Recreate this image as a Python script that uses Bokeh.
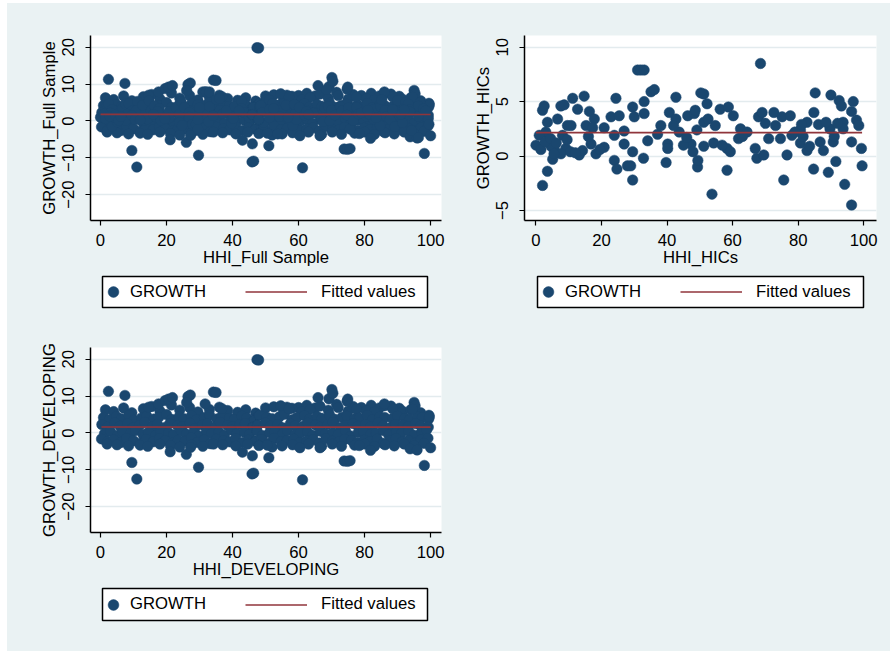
import numpy as np
from bokeh.plotting import figure
from bokeh.models import Legend, LegendItem, Range1d, FixedTicker, Spacer
from bokeh.layouts import column, row
from bokeh.embed import file_html
from bokeh.resources import INLINE

BG = "#EAF2F3"
NAVY = "#1A476F"
MAROON = "#90353B"
GRID = "#E3EBEE"
FONT = "Liberation Sans"
FS = "16.7px"

x_ticks = [0, 20, 40, 60, 80, 100]
y_ticks_wide = [-20, -10, 0, 10, 20]
y_ticks_hic = [-5, 0, 5, 10]

# ---------------- DEVELOPING sample ----------------
dev_r1_x = [1.5, 4.0, 7.0, 9.5, 13.0, 15.5, 18.0, 21.5, 24.0, 27.0, 29.5, 33.0, 36.0, 38.5, 41.5, 44.0, 47.0, 50.0,
            52.5, 55.5, 58.0, 61.0, 63.5, 66.5, 69.0, 72.0, 75.0, 77.5, 80.5, 83.0, 86.0, 88.5, 91.5, 94.0, 97.0, 99.5]
dev_r1_y = [6.3, 5.8, 6.8, 5.5, 6.6, 7.2, 6.0, 7.6, 6.2, 6.9, 5.7, 6.4, 7.0, 6.1, 5.6, 6.3, 5.4, 6.8,
            7.1, 6.0, 6.7, 5.8, 6.4, 7.3, 6.2, 6.9, 5.9, 6.5, 6.1, 5.7, 7.4, 6.6, 5.9, 6.3, 5.5, 4.8]
dev_r0_x = [56.5, 60.0, 62.5, 65.0, 71.5, 76.5, 79.0, 82.0, 84.5, 88.0, 90.5]
dev_r0_y = [7.0, 6.9, 7.5, 6.8, 7.8, 7.2, 6.9, 7.5, 6.8, 7.3, 6.7]
dev_r2_x = [0.9, 2.6, 4.8, 6.3, 8.6, 10.1, 12.4, 14.0, 16.2, 17.7, 20.0, 21.5, 23.8, 25.3, 27.6, 29.1, 31.4, 33.0,
            35.2, 36.7, 39.0, 40.5, 42.8, 44.3, 46.6, 48.1, 50.4, 52.0, 54.2, 55.7, 58.0, 59.5, 61.8, 63.3, 65.6,
            67.1, 69.4, 71.0, 73.2, 74.7, 77.0, 78.5, 80.8, 82.3, 84.6, 86.1, 88.4, 90.0, 92.2, 93.7, 96.0, 97.5, 99.4]
dev_r2_y = [4.2, 3.6, 4.5, 3.9, 4.8, 3.5, 4.1, 4.6, 3.8, 4.3, 5.0, 3.7, 4.4, 3.9, 4.7, 3.6, 4.2, 4.9,
            3.8, 4.5, 4.0, 3.7, 4.6, 4.1, 3.5, 4.8, 4.3, 3.9, 4.4, 5.1, 3.6, 4.2, 4.7, 3.8, 4.5,
            4.0, 4.9, 3.7, 4.3, 4.6, 3.9, 4.1, 4.8, 3.6, 4.4, 4.2, 3.9, 4.6, 4.0, 3.7, 4.5, 4.3, 3.8]
dev_r3_x = [0.4, 2.1, 4.3, 5.9, 8.2, 9.7, 11.9, 13.4, 15.7, 17.2, 19.5, 21.0, 23.3, 24.8, 27.1, 28.6, 30.9, 32.4,
            34.7, 36.2, 38.5, 40.0, 42.3, 43.8, 46.1, 47.6, 49.9, 51.4, 53.7, 55.2, 57.5, 59.0, 61.3, 62.8, 65.1,
            66.6, 68.9, 70.4, 72.7, 74.2, 76.5, 78.0, 80.3, 81.8, 84.1, 85.6, 87.9, 89.4, 91.7, 93.2, 95.5, 97.0, 99.3]
dev_r3_y = [2.3, 1.6, 2.8, 1.9, 2.5, 1.4, 2.1, 2.9, 1.7, 2.4, 1.5, 2.6, 2.0, 1.8, 2.7, 1.3, 2.2, 2.5,
            1.6, 2.9, 2.0, 1.7, 2.4, 2.6, 1.5, 2.1, 2.8, 1.9, 2.3, 1.4, 2.5, 2.0, 1.8, 2.7, 2.2,
            1.6, 2.4, 2.9, 1.5, 2.1, 2.6, 1.9, 2.3, 1.7, 2.8, 2.0, 1.5, 2.4, 2.2, 1.8, 2.6, 2.0, 1.6]
dev_r4_x = [1.2, 3.0, 5.2, 6.8, 9.1, 10.6, 12.9, 14.5, 16.7, 18.3, 20.6, 22.1, 24.4, 26.0, 28.2, 29.8, 32.1, 33.6,
            35.9, 37.5, 39.7, 41.3, 43.6, 45.1, 47.4, 49.0, 51.2, 52.8, 55.1, 56.6, 58.9, 60.5, 62.7, 64.3, 66.6,
            68.1, 70.4, 72.0, 74.2, 75.8, 78.1, 79.6, 81.9, 83.5, 85.7, 87.3, 89.6, 91.1, 93.4, 95.0, 97.2, 98.8]
dev_r4_y = [-0.2, 0.5, -0.6, 0.3, -0.1, 0.7, -0.4, 0.2, -0.7, 0.4, 0.0, -0.5, 0.6, -0.3, 0.1, -0.8, 0.5, -0.2,
            0.3, -0.6, 0.8, -0.1, 0.2, -0.4, 0.6, -0.7, 0.1, 0.4, -0.3, 0.7, -0.5, 0.0, 0.3, -0.6, 0.5,
            -0.2, 0.1, -0.4, 0.6, -0.8, 0.2, 0.4, -0.3, 0.0, 0.7, -0.5, 0.3, -0.1, 0.5, -0.6, 0.2, 0.9]
dev_r5_x = [0.3, 2.2, 4.0, 6.1, 7.9, 10.0, 12.0, 13.8, 15.9, 17.8, 19.6, 21.7, 23.5, 25.6, 27.5, 29.3, 31.4, 33.3,
            35.1, 37.2, 39.1, 40.9, 43.0, 44.8, 46.9, 48.7, 50.8, 52.6, 54.7, 56.5, 58.6, 60.4, 62.5, 64.4, 66.3,
            68.3, 70.2, 72.1, 74.0, 76.0, 77.8, 79.9, 81.7, 83.8, 85.6, 87.6, 89.5, 91.4, 93.3, 95.3, 97.1, 99.2]
dev_r5_y = [-1.6, -2.3, -1.8, -2.6, -1.4, -2.1, -2.8, -1.7, -2.4, -1.5, -2.0, -2.7, -1.9, -2.2, -1.3, -2.5, -1.8, -2.9,
            -1.6, -2.1, -2.4, -1.5, -2.6, -1.9, -2.2, -1.7, -2.8, -1.4, -2.3, -2.0, -1.6, -2.5, -2.1, -1.8, -2.7,
            -1.5, -2.2, -2.4, -1.7, -2.0, -2.6, -1.9, -2.3, -1.6, -2.8, -2.1, -1.5, -2.4, -2.0, -2.7, -1.8, -1.4]
dev_r6_x = [2.0, 5.0, 8.5, 12.0, 14.3, 18.0, 21.2, 24.0, 27.6, 31.0, 34.2, 37.0, 41.0, 44.6, 48.0, 52.0, 55.0, 58.2,
            63.0, 67.0, 70.2, 73.0, 77.0, 80.0, 83.0, 86.2, 89.0, 92.0, 95.0, 98.0]
dev_r6_y = [-3.0, -3.2, -3.5, -3.3, -3.6, -3.0, -3.4, -3.8, -3.2, -3.6, -3.0, -3.2, -3.5, -3.0, -3.4, -3.8, -3.5, -3.2,
            -3.0, -3.6, -3.0, -3.6, -3.3, -3.0, -3.6, -3.2, -3.5, -3.0, -3.4, -2.8]
dev_out_x = [2.4, 7.4, 9.5, 11.0, 14.6, 17.6, 19.6, 20.6, 21.8, 21.1, 26.5, 27.2, 26.1, 26.0, 27.3, 29.7, 31.7, 34.2,
             35.0, 36.8, 43.0, 45.9, 46.4, 46.0, 47.4, 47.9, 50.5, 51.0, 54.6, 57.1, 60.4, 61.2, 65.9, 66.5, 69.2,
             70.1, 70.4, 74.7, 74.9, 73.8, 74.8, 75.6, 78.4, 81.8, 86.0, 95.0, 95.3, 94.5, 93.8, 95.9, 98.1, 100.0, 99.6]
dev_out_y = [11.3, 10.2, -8.0, -12.5, 7.0, 7.9, 8.8, 9.2, 9.6, -5.1, 9.9, 10.3, 8.3, -5.8, -3.9, -9.3, 7.9, 11.1,
             11.0, 6.6, -5.2, -11.1, -10.9, -6.2, 19.9, 19.8, -3.3, -6.7, 7.4, 6.6, -4.0, -12.7, 9.6, -4.0, 9.3,
             11.8, 10.8, 8.6, 9.2, -7.6, -7.7, -7.5, -3.4, -4.7, 7.9, 8.3, 7.4, 6.5, -4.3, -4.6, -8.8, -4.0, 4.4]

dev_x = dev_r0_x + dev_r1_x + dev_r2_x + dev_r3_x + dev_r4_x + dev_r5_x + dev_r6_x + dev_out_x
dev_y = dev_r0_y + dev_r1_y + dev_r2_y + dev_r3_y + dev_r4_y + dev_r5_y + dev_r6_y + dev_out_y

# ---------------- HICs sample ----------------
hic_x = [0.0, 2.0, 2.5, 2.0, 3.5, 3.5, 3.0, 1.0, 5.1, 5.6, 4.6, 6.6, 7.6, 8.6, 9.6, 8.1, 9.1, 7.6,
         11.2, 10.7, 12.7, 13.2, 14.7, 14.2, 15.3, 16.3, 16.8, 17.8, 18.3, 17.3, 20.8, 20.8, 22.9, 24.4,
         23.9, 23.9, 24.7, 25.4, 26.9, 26.9, 27.9, 28.9, 29.5, 29.5, 29.5, 30.0, 31.0, 32.0, 33.0, 33.0,
         33.0, 32.8, 34.1, 35.1, 36.1, 37.1, 38.1, 39.7, 40.2, 40.7, 40.2, 42.7, 42.7, 43.7, 46.3, 48.3,
         47.3, 49.3, 50.3, 1.5, 2.8, 4.5, 5.5, 6.2, 9.5, 10.5, 12.0, 16.0,
         19.5, 45.0, 46.0, 48.6, 49.1, 49.4, 47.9, 42.0,
         51.2, 52.2, 51.2, 54.7, 53.7, 51.2, 54.2, 56.2, 58.7, 60.2, 58.3, 58.3, 59.3, 61.8, 62.4, 64.4,
         66.9, 67.4, 67.9, 68.5, 69.0, 69.5, 70.0, 71.0, 72.6, 73.1, 75.1, 74.6, 75.6, 76.6, 77.6, 78.1,
         80.7, 80.7, 82.7, 82.7, 84.7, 84.8, 85.2, 86.2, 86.7, 87.7, 89.2, 89.7, 90.0, 90.7, 91.5, 92.5,
         93.2, 93.7, 94.2, 96.3, 96.3, 96.8, 96.3, 97.8, 99.3, 99.5, 93.7, 63.0, 52.5, 56.8, 79.0, 81.5,
         83.5, 91.0, 81.0, 88.5, 92.0, 98.5]
hic_y = [1.0, 4.2, 4.6, -2.7, -1.4, 3.1, 2.2, 1.9, -0.3, 0.6, 0.9, 3.4, 4.6, 4.7, 2.8, 1.9, 0.7, 0.2,
         5.3, 2.8, 4.3, 0.1, 5.5, 0.5, 2.8, 4.1, 1.1, 3.4, 0.2, 2.6, 2.6, 0.8, 3.6, 5.3,
         1.9, -0.4, -1.2, 3.7, 2.3, 1.1, -0.9, -0.9, 4.5, -2.2, 0.4, 3.6, 7.9, 7.9, 7.9, 5.0,
         3.9, -0.2, 1.4, 5.9, 6.1, 2.0, 2.8, -0.6, 1.1, 4.0, 0.7, 5.4, 3.4, 2.2, 3.7, 3.9,
         1.1, -1.0, 5.8, 0.6, 1.3, 1.6, 0.2, 1.2, 1.5, 0.4, 0.3, 1.8,
         0.6, 1.0, 1.7, 4.2, 2.4, -0.4, 0.4, 2.8,
         5.7, 4.8, 3.1, 2.8, -3.5, 0.9, 1.2, 4.3, 4.5, 3.7, 0.7, -1.3, 0.4, 1.6, 2.5, 2.2,
         0.7, -0.2, 3.6, 8.5, 4.0, 0.1, 3.0, 1.6, 4.0, 2.8, 3.6, 1.6, -2.2, 0.1, 3.7, 1.9,
         2.4, 1.2, 3.1, 0.5, -1.2, 4.0, 5.8, 2.9, 1.3, 0.5, -1.5, 2.5, 5.6, 1.3, -0.5, 5.1,
         4.6, 3.1, -2.6, 1.3, -4.5, 5.0, 4.1, 3.3, 0.7, -0.9, 2.5, 1.8, 3.4, 1.0, 2.2, 1.8,
         0.9, 1.8, 2.9, 3.1, 3.0, 2.8]

# ---------------- Full sample = developing + HICs ----------------
full_x = dev_x + hic_x
full_y = dev_y + hic_y


def fitted(xs, ys):
    coef = np.polyfit(np.array(xs), np.array(ys), 1)
    fx = [min(xs), max(xs)]
    return fx, [float(v) for v in np.polyval(coef, fx)]


def style_axes(p):
    for ax in (p.xaxis[0], p.yaxis[0]):
        ax.axis_line_color = "black"
        ax.axis_line_width = 1.5
        ax.major_tick_line_color = "black"
        ax.major_tick_line_width = 1.2
        ax.major_tick_out = 5
        ax.major_tick_in = 0
        ax.minor_tick_line_color = None
        ax.major_label_text_font = FONT
        ax.major_label_text_font_size = FS
        ax.major_label_text_color = "black"
        ax.axis_label_text_font = FONT
        ax.axis_label_text_font_size = FS
        ax.axis_label_text_font_style = "normal"
        ax.axis_label_text_color = "black"


def make_panel(w, h, bl, br, bt, bb, xs, ys, xlabel, ylabel, xr, yr, yticks):
    p = figure(width=w, height=h, output_backend="svg", toolbar_location=None,
               x_range=Range1d(*xr), y_range=Range1d(*yr), frame_align=False,
               min_border_left=bl, min_border_right=br, min_border_top=bt, min_border_bottom=bb,
               background_fill_color="white", border_fill_color=BG, outline_line_color=None)
    p.xgrid.visible = False
    p.ygrid.ticker = FixedTicker(ticks=yticks)
    p.ygrid.grid_line_color = GRID
    p.ygrid.grid_line_width = 1.5
    p.xaxis.ticker = FixedTicker(ticks=x_ticks)
    p.yaxis.ticker = FixedTicker(ticks=yticks)
    style_axes(p)
    p.yaxis.major_label_orientation = "vertical"
    p.yaxis.major_label_standoff = 11
    p.yaxis.axis_label_standoff = 1
    p.xaxis.major_label_standoff = 8
    p.xaxis.axis_label_standoff = -1
    p.xaxis.axis_label = xlabel
    p.yaxis.axis_label = ylabel

    p.scatter(xs, ys, size=10.5, fill_color=NAVY, line_color=NAVY, line_width=0.5)
    fx, fy = fitted(xs, ys)
    p.line(fx, fy, line_color=MAROON, line_width=1.7)
    return p


def make_legend(w, h, bl, bt, box_w, box_h, xs, ys):
    # the frame of this small figure is the legend box; the data lies outside its ranges
    lf = figure(width=w, height=h, output_backend="svg", toolbar_location=None,
                x_range=Range1d(-1000, -999), y_range=Range1d(-1000, -999),
                x_axis_type=None, y_axis_type=None, frame_align=False,
                min_border_left=bl, min_border_right=w - bl - box_w, min_border_top=bt,
                min_border_bottom=h - bt - box_h,
                background_fill_color="white", border_fill_color=BG,
                outline_line_color="black", outline_line_width=1.5)
    lf.grid.visible = False
    sc = lf.scatter(xs, ys, size=10.5, fill_color=NAVY, line_color=NAVY, line_width=0.5)
    fx, fy = fitted(xs, ys)
    ln = lf.line(fx, fy, line_color=MAROON, line_width=1.7)
    common = dict(orientation="horizontal", padding=0, spacing=0, margin=0,
                  label_text_font=FONT, label_text_font_size=FS, label_text_color="black",
                  border_line_color=None, background_fill_alpha=0.0, glyph_height=27, label_height=27,
                  label_width=20)
    off_y = (box_h - 27) / 2
    leg_a = Legend(items=[LegendItem(label="GROWTH", renderers=[sc])], location=(-3, off_y),
                   glyph_width=28, label_standoff=3, **common)
    leg_b = Legend(items=[LegendItem(label="Fitted values", renderers=[ln])], location=(143, off_y),
                   glyph_width=62, label_standoff=14, **common)
    lf.add_layout(leg_a)
    lf.add_layout(leg_b)
    return lf


p1 = make_panel(442, 269, 83, 8, 32, 52, full_x, full_y, "HHI_Full Sample", "GROWTH_Full Sample",
                (-3.03, 103.3), (-27.0, 23.2), y_ticks_wide)
l1 = make_legend(442, 53, 95, 4, 325, 31, full_x, full_y)
p2 = make_panel(441, 269, 75, 14, 32, 52, hic_x, hic_y, "HHI_HICs", "GROWTH_HICs",
                (-3.5, 103.9), (-5.92, 11.07), y_ticks_hic)
l2 = make_legend(441, 53, 88, 4, 326, 31, hic_x, hic_y)
p3 = make_panel(442, 259, 83, 8, 22, 52, dev_x, dev_y, "HHI_DEVELOPING", "GROWTH_DEVELOPING",
                (-3.03, 103.3), (-27.0, 23.2), y_ticks_wide)
l3 = make_legend(442, 67, 95, 4, 325, 32, dev_x, dev_y)
sp = Spacer(width=441, height=326)

layout = column(row(column(p1, l1), column(p2, l2)), row(column(p3, l3), sp),
                margin=(3, 0, 0, 7), styles={"background-color": BG})
open("out.html", "w").write(file_html(layout, INLINE))
